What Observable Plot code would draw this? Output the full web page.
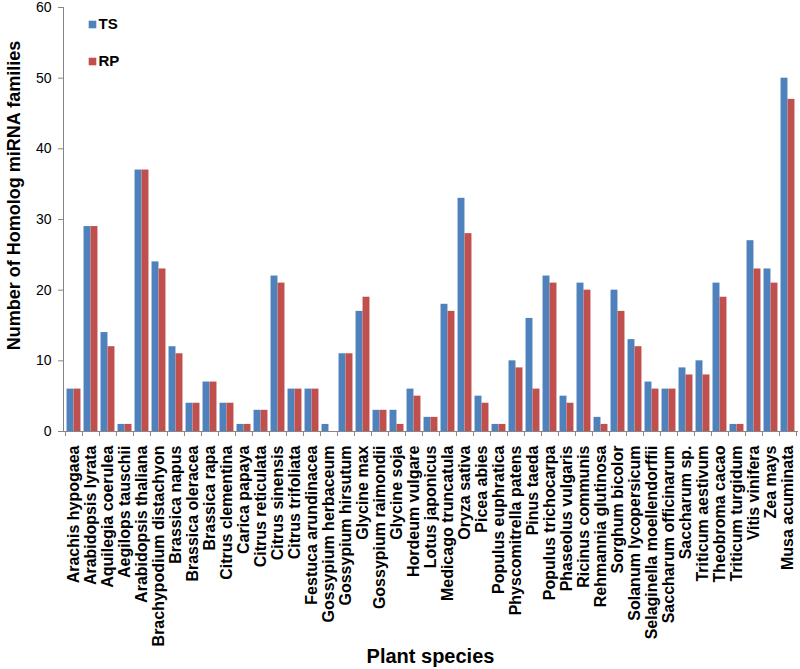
<!DOCTYPE html>
<html>
<head>
<meta charset="utf-8">
<script src="https://cdn.jsdelivr.net/npm/d3@7"></script>
<script src="https://cdn.jsdelivr.net/npm/@observablehq/plot@0.6"></script>
<style>
  html, body { margin: 0; padding: 0; background: #fff; }
  #chart { width: 800px; height: 669px; }
</style>
</head>
<body>
<div id="chart"></div>
<script>
const species = [
  "Arachis hypogaea", "Arabidopsis lyrata", "Aquilegia coerulea", "Aegilops tauschii",
  "Arabidopsis thaliana", "Brachypodium distachyon", "Brassica napus", "Brassica oleracea",
  "Brassica rapa", "Citrus clementina", "Carica papaya", "Citrus reticulata",
  "Citrus sinensis", "Citrus trifoliata", "Festuca arundinacea", "Gossypium herbaceum",
  "Gossypium hirsutum", "Glycine max", "Gossypium raimondii", "Glycine soja",
  "Hordeum vulgare", "Lotus japonicus", "Medicago truncatula", "Oryza sativa",
  "Picea abies", "Populus euphratica", "Physcomitrella patens", "Pinus taeda",
  "Populus trichocarpa", "Phaseolus vulgaris", "Ricinus communis", "Rehmannia glutinosa",
  "Sorghum bicolor", "Solanum lycopersicum", "Selaginella moellendorffii", "Saccharum officinarum",
  "Saccharum sp.", "Triticum aestivum", "Theobroma cacao", "Triticum turgidum",
  "Vitis vinifera", "Zea mays", "Musa acuminata"
];
const tsValues = [6, 29, 14, 1, 37, 24, 12, 4, 7, 4, 1, 3, 22, 6, 6, 1, 11, 17, 3, 3, 6, 2, 18, 33, 5, 1, 10, 16, 22, 5, 21, 2, 20, 13, 7, 6, 9, 10, 21, 1, 27, 23, 50];
const rpValues = [6, 29, 12, 1, 37, 23, 11, 4, 7, 4, 1, 3, 21, 6, 6, 0, 11, 19, 3, 1, 5, 2, 17, 28, 4, 1, 9, 6, 21, 4, 20, 1, 17, 12, 6, 6, 8, 8, 19, 1, 23, 21, 47];
const seriesNames = ["TS", "RP"];
const seriesColors = ["#4F81BD", "#C0504D"];
const yTicks = [0, 10, 20, 30, 40, 50, 60];
const yTitle = "Number of Homolog miRNA families";
const xTitle = "Plant species";

const data = species.flatMap((s, i) => [
  {species: s, series: "TS", value: tsValues[i]},
  {species: s, series: "RP", value: rpValues[i]}
]);

const W = 800, H = 669;
const mL = 63, mR = 3, mT = 7, mB = 238;
const bw = (W - mL - mR) / species.length;
const axisGray = "#868686";
const font = "'Liberation Sans', Arial, sans-serif";

const chart = Plot.plot({
  width: W,
  height: H,
  marginLeft: mL,
  marginRight: mR,
  marginTop: mT,
  marginBottom: mB,
  style: {fontFamily: font, color: "#000", background: "#fff"},
  x: {domain: species, padding: 0, axis: null},
  y: {domain: [0, 60], axis: null},
  color: {domain: seriesNames, range: seriesColors},
  marks: [
    Plot.barY(data.filter(d => d.series === "TS"), {
      x: "species", y: "value", fill: "series",
      insetLeft: bw * 0.09, insetRight: bw * 0.5
    }),
    Plot.barY(data.filter(d => d.series === "RP"), {
      x: "species", y: "value", fill: "series",
      insetLeft: bw * 0.5, insetRight: bw * 0.09
    }),
    Plot.frame({anchor: "left", stroke: axisGray}),
    Plot.frame({anchor: "bottom", stroke: axisGray}),
    Plot.axisY({
      ticks: yTicks, tickSize: 5, tickPadding: 7, fontSize: 14,
      stroke: axisGray, fill: "#000", label: null
    }),
    // category boundary tick marks
    Plot.axisX({
      ticks: species, tickSize: 5, tickFormat: () => "", dx: -bw / 2,
      stroke: axisGray, label: null
    }),
    Plot.axisX({
      ticks: [species[species.length - 1]], tickSize: 5, tickFormat: () => "", dx: bw / 2,
      stroke: axisGray, label: null
    }),
    // category labels
    Plot.axisX({
      ticks: species, tickSize: 0, tickPadding: 14, tickRotate: -90,
      fontSize: 16, fontWeight: "bold", fill: "#000", label: null
    }),
    // axis titles
    Plot.text([yTitle], {
      text: d => d, frameAnchor: "left", dx: -49, dy: -24, rotate: -90,
      textAnchor: "middle",
      fontSize: 18, fontWeight: "bold", fill: "#000"
    }),
    Plot.text([xTitle], {
      text: d => d, frameAnchor: "bottom", dy: 231,
      fontSize: 20, fontWeight: "bold", fill: "#000"
    }),
    // legend
    ...seriesNames.map((s, i) => Plot.dot([s], {
      frameAnchor: "top-left", dx: 29, dy: 17 + i * 37,
      symbol: "square", r: 4.3, fill: seriesColors[i], stroke: null
    })),
    ...seriesNames.map((s, i) => Plot.text([s], {
      text: d => d, frameAnchor: "top-left", dx: 35, dy: 17 + i * 37,
      textAnchor: "start", lineAnchor: "middle",
      fontSize: 15, fontWeight: "bold", fill: "#000"
    }))
  ]
});

document.getElementById("chart").appendChild(chart);
</script>
</body>
</html>
